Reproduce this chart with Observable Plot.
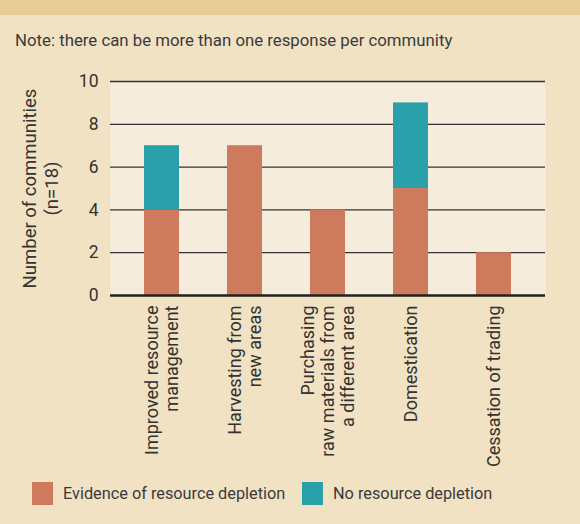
<!DOCTYPE html>
<html>
<head>
<meta charset="utf-8">
<script src="https://cdn.jsdelivr.net/npm/d3@7"></script>
<script src="https://cdn.jsdelivr.net/npm/@observablehq/plot@0.6"></script>
<style>
  html, body { margin: 0; padding: 0; }
  body { width: 580px; height: 524px; background: #f2e2c4; position: relative; overflow: hidden;
         font-family: Roboto, "DejaVu Sans Condensed", sans-serif; color: #3a3a3a; }
  #band { position: absolute; left: 0; top: 0; width: 580px; height: 15px; background: #e6cc96; }
  #note { position: absolute; left: 15px; top: 30px; font-size: 16.8px; line-height: 20px; }
  #chart { position: absolute; left: 0; top: 60px; }
  #legend { position: absolute; left: 0; top: 482px; width: 580px; height: 24px; font-size: 16.3px; }
  .item { position: absolute; top: 0; display: flex; align-items: center; }
  .sw { width: 21px; height: 23px; margin-right: 10px; }
</style>
</head>
<body>
<div id="band"></div>
<div id="note">Note: there can be more than one response per community</div>
<div id="chart"></div>
<div id="legend"></div>
<script>
const categories = [
  "Improved resource\nmanagement",
  "Harvesting from\nnew areas",
  "Purchasing\nraw materials from\na different area",
  "Domestication",
  "Cessation of trading"
];
const seriesNames = ["Evidence of resource depletion", "No resource depletion"];
const seriesColors = ["#cd7b5c", "#2aa1aa"];
const evidence = [4, 7, 4, 5, 2];
const noDepletion = [3, 0, 0, 4, 0];
const yTicks = [0, 2, 4, 6, 8, 10];

const data = [];
categories.forEach((c, i) => {
  data.push({category: c, series: seriesNames[0], value: evidence[i]});
  data.push({category: c, series: seriesNames[1], value: noDepletion[i]});
});

const chart = Plot.plot({
  width: 580,
  height: 420,
  marginTop: 21,
  marginBottom: 185,
  marginLeft: 110,
  marginRight: 35,
  style: {background: "transparent", fontFamily: "Roboto, sans-serif", color: "#333"},
  x: {domain: categories, paddingInner: 0.578, paddingOuter: 0.395, label: null},
  y: {domain: [0, 10], label: null},
  color: {domain: seriesNames, range: seriesColors},
  marks: [
    Plot.frame({fill: "#f5ecdc", stroke: "none"}),
    Plot.ruleY(yTicks.filter(d => d > 0), {stroke: "#333", strokeWidth: 1.3}),
    Plot.barY(data, {x: "category", y: "value", fill: "series", order: seriesNames}),
    Plot.ruleY([0], {stroke: "#222", strokeWidth: 2.5}),
    Plot.axisY({ticks: yTicks, tickSize: 0, tickPadding: 12, fontSize: 17.5, label: null}),
    Plot.axisX({tickSize: 0, tickPadding: 10, tickRotate: -90, fontSize: 18, lineHeight: 1.11, label: null}),
    Plot.text(["Number of communities\n(n=18)"], {frameAnchor: "left", textAnchor: "middle", lineAnchor: "middle", rotate: -90, dx: -71, fontSize: 18.5, lineHeight: 1.2, fill: "#333"})
  ]
});
document.getElementById("chart").appendChild(chart);

const legend = document.getElementById("legend");
const lefts = [32, 302];
seriesNames.forEach((name, i) => {
  const item = document.createElement("div");
  item.className = "item";
  item.style.left = lefts[i] + "px";
  const sw = document.createElement("div");
  sw.className = "sw";
  sw.style.background = seriesColors[i];
  const t = document.createElement("span");
  t.textContent = name;
  item.appendChild(sw);
  item.appendChild(t);
  legend.appendChild(item);
});
</script>
</body>
</html>
